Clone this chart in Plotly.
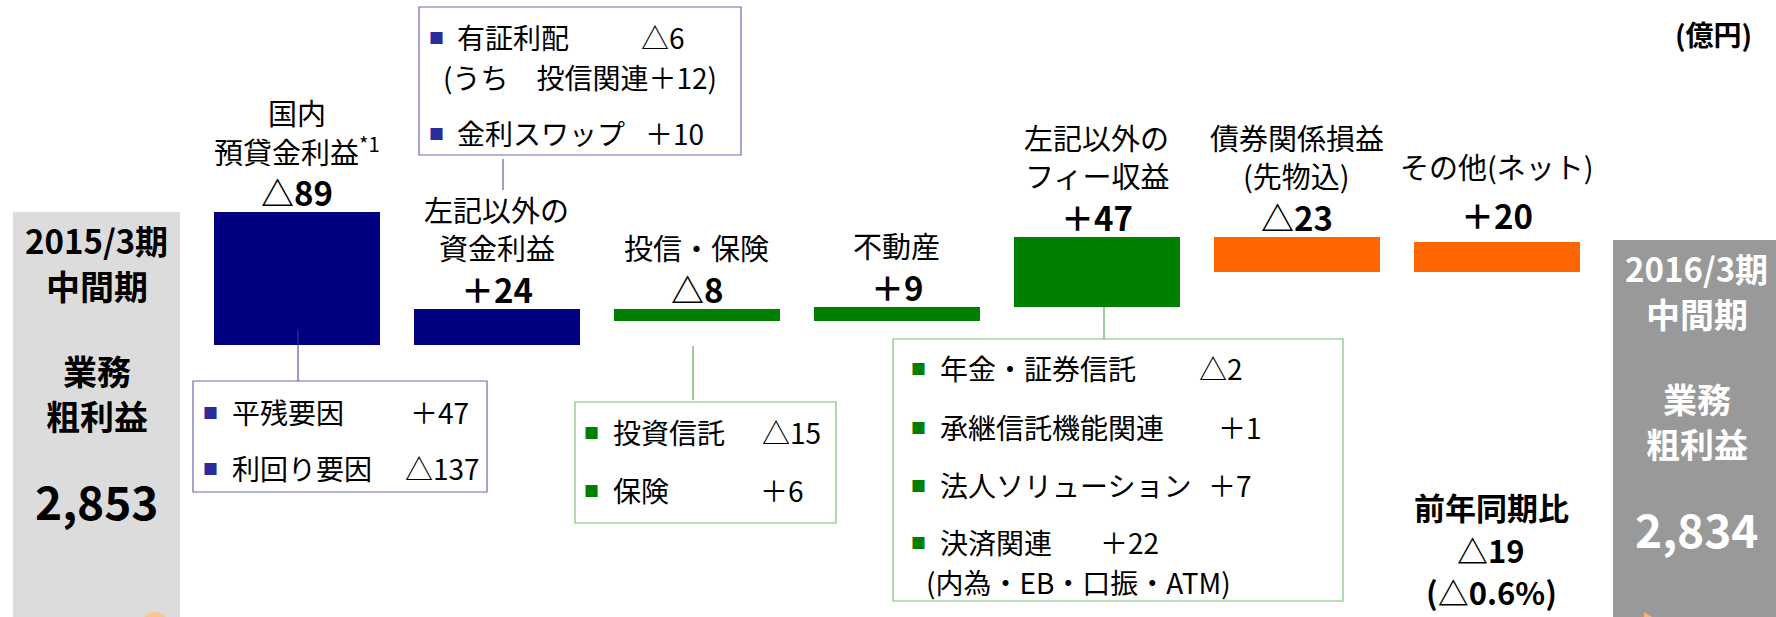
import plotly.graph_objects as go

W, H = 1776, 617
FONT = "Noto Sans CJK JP"

# 業務粗利益の増減要因（億円）
start_lines = ["2015/3期", "中間期", "業務", "粗利益"]
end_lines = ["2016/3期", "中間期", "業務", "粗利益"]
start_value = 2853
end_value = 2834
step_names = [["国内", "預貸金利益<sup>*1</sup>"], ["左記以外の", "資金利益"], ["投信・保険"], ["不動産"],
              ["左記以外の", "フィー収益"], ["債券関係損益", "(先物込)"], ["その他(ネット)"]]
deltas = [-89, 24, -8, 9, 47, -23, 20]
step_colors = ["#000080", "#000080", "#008000", "#008000", "#008000", "#FF6600", "#FF6600"]
yoy_change = -19
yoy_pct = -0.6

# 内訳
loan_items = ["平残要因", "利回り要因"]
loan_vals = [47, -137]
sec_items = ["有証利配", "(うち　投信関連＋12)", "金利スワップ"]
sec_vals = [-6, None, 10]
inv_items = ["投資信託", "保険"]
inv_vals = [-15, 6]
fee_items = ["年金・証券信託", "承継信託機能関連", "法人ソリューション", "決済関連", "(内為・EB・口振・ATM)"]
fee_vals = [-2, 1, 7, 22, None]


def fmt(v):
    return f"△{abs(v)}" if v < 0 else f"＋{v}"


# axis scale: 1.49 px per 億円, 2853 sits 212px from the top
k = 1.49
Y1 = start_value + 212 / k
Y0 = Y1 - H / k

levels = [start_value]
for d in deltas:
    levels.append(levels[-1] + d)

fig = go.Figure()
fig.add_trace(go.Bar(x=[0, 8], y=[start_value - Y0, end_value - Y0], base=[Y0, Y0],
                     marker=dict(color=["#DCDCDC", "#999999"], line_width=0), width=0.835))
fig.add_trace(go.Bar(x=list(range(1, 8)), y=deltas, base=levels[:-1],
                     marker=dict(color=step_colors, line_width=0), width=0.83))

ann = []


def txt(s, x, y, size, color="black", bold=False, xanchor="center"):
    ann.append(dict(text=f"<b>{s}</b>" if bold else s, x=x / W, y=1 - y / H, xref="paper", yref="paper",
                    xanchor=xanchor, yanchor="middle", showarrow=False, borderpad=0,
                    font=dict(size=size, color=color, family=FONT)))


# labels above each step bar (extra lift for the last one, as in the slide)
num_lift = [0, 0, 0, 0, 0, 0, 7]
name_lift = [0, 0, 0, 0, 0, 0, 14]
for i, (names, d) in enumerate(zip(step_names, deltas)):
    top = max(levels[i], levels[i + 1])
    ann.append(dict(text=f"<b>{fmt(d)}</b>", x=i + 1, y=top, xref="x", yref="y", yshift=20 + num_lift[i],
                    yanchor="middle", showarrow=False, font=dict(size=33, color="black", family=FONT)))
    n = len(names)
    for j, nm in enumerate(names):
        ann.append(dict(text=nm, x=i + 1, y=top, xref="x", yref="y",
                        yshift=62 + 38 * (n - 1 - j) + name_lift[i],
                        yanchor="middle", showarrow=False, font=dict(size=29, color="black", family=FONT)))

# text inside the two total bars
offsets = [28, 73, 158, 203]
sizes = [33, 34, 34, 34]
for xi, val, lines, col in [(0, start_value, start_lines, "black"), (8, end_value, end_lines, "white")]:
    for off, sz, ln in zip(offsets, sizes, lines):
        ann.append(dict(text=f"<b>{ln}</b>", x=xi, y=val, xref="x", yref="y", yshift=-off,
                        yanchor="middle", showarrow=False, font=dict(size=sz, color=col, family=FONT)))
    ann.append(dict(text=f"<b>{val:,}</b>", x=xi, y=val, xref="x", yref="y", yshift=-288,
                    yanchor="middle", showarrow=False, font=dict(size=46, color=col, family=FONT)))

# unit and yoy
txt("(億円)", 1713, 34, 28, bold=True)
txt("前年同期比", 1491, 506, 31, bold=True)
txt(fmt(yoy_change), 1491, 549, 31, bold=True)
txt(f"(△{abs(yoy_pct)}%)", 1491, 591, 31, bold=True)

shapes = []


def box(x0, x1, y0, y1, color):
    shapes.append(dict(type="rect", xref="paper", yref="paper", x0=x0 / W, x1=x1 / W,
                       y0=1 - y1 / H, y1=1 - y0 / H, line=dict(color=color, width=1.2), fillcolor="rgba(0,0,0,0)"))


def vline(x, y0, y1, color):
    shapes.append(dict(type="line", xref="paper", yref="paper", x0=x / W, x1=x / W,
                       y0=1 - y1 / H, y1=1 - y0 / H, line=dict(color=color, width=1)))


def items(names, vals, rows, bullet_x, label_x, val_x, bullet_col):
    for nm, v, y, vx in zip(names, vals, rows, val_x):
        if v is None:
            txt(nm, label_x - 14, y, 28, xanchor="left")
            continue
        txt("■", bullet_x, y, 15, color=bullet_col)
        txt(nm, label_x, y, 28, xanchor="left")
        txt(fmt(v), vx, y, 28, xanchor="left")


BLUE_LINE, BLUE_BUL = "#6A6AB8", "#2B2B9B"
GREEN_LINE, GREEN_BUL = "#77C077", "#008000"

# 有証利配 box
box(419, 741, 7, 155, BLUE_LINE)
vline(503, 159, 190, "#3A3A9A")
items(sec_items, sec_vals, [37, 77, 133], 436, 456, [640, 0, 644], BLUE_BUL)

# 平残要因 box
box(193, 487, 381, 492, BLUE_LINE)
vline(298, 330, 381, "#3A3A9A")
items(loan_items, loan_vals, [412, 468], 210, 231, [409, 404], BLUE_BUL)

# 投資信託 box
box(575, 836, 402, 523, GREEN_LINE)
vline(693, 346, 400, "#339933")
items(inv_items, inv_vals, [432, 490], 591, 612, [761, 759], GREEN_BUL)

# フィー box
box(893, 1343, 339, 601, GREEN_LINE)
vline(1104, 307, 339, "#339933")
items(fee_items, fee_vals, [368, 427, 485, 542, 582], 918, 939, [1198, 1217, 1207, 1099, 0], GREEN_BUL)

# cut-off orange arrow fragments at the bottom edge of the slide
shapes.append(dict(type="circle", xref="paper", yref="paper", x0=141 / W, x1=169 / W,
                   y0=1 - 640 / H, y1=1 - 612 / H, fillcolor="#FBC58E", line_width=0))
shapes.append(dict(type="path", xref="paper", yref="paper", fillcolor="#F5B57A", line_width=0,
                   path=f"M {1644 / W} {1 - 612 / H} L {1644 / W} 0 L {1652 / W} 0 Z"))

fig.update_layout(
    width=W, height=H, margin=dict(l=0, r=0, t=0, b=0),
    paper_bgcolor="white", plot_bgcolor="white",
    showlegend=False, bargap=0,
    xaxis=dict(range=[-0.4825, 8.3975], visible=False, fixedrange=True),
    yaxis=dict(range=[Y0, Y1], visible=False, fixedrange=True),
    annotations=ann, shapes=shapes,
    font=dict(family=FONT),
)

# page body has a default 8px margin; drop it so the figure fills the window
fig.write_html("out.html", config={"displayModeBar": False},
               post_script="document.body.style.margin='0';")
